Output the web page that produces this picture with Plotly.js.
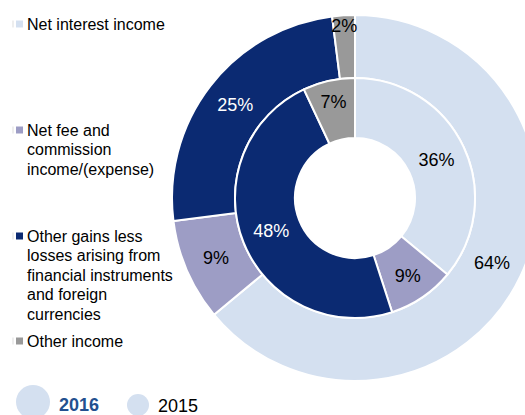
<!DOCTYPE html>
<html><head><meta charset="utf-8">
<script src="https://cdn.plot.ly/plotly-3.0.1.min.js"></script>
<style>html,body{margin:0;padding:0;overflow:hidden;background:#fff}#chart{width:560px;height:415px}</style>
</head><body><div id="chart"></div>
<script>
const categories = ["Net interest income","Net fee and commission income/(expense)","Other gains less losses arising from financial instruments and foreign currencies","Other income"];
const legendLines = [
  ["Net interest income"],
  ["Net fee and","commission","income/(expense)"],
  ["Other gains less","losses arising from","financial instruments","and foreign","currencies"],
  ["Other income"]
];
const years = ["2016","2015"];
const values2016 = [64,9,25,2];
const values2015 = [36,9,48,7];
const colors = ["#D4E0F0","#9D9DC5","#0B2A72","#999999"];
const textColors = ["#000000","#000000","#FFFFFF","#000000"];

const W = 560, H = 415;
const px = x => x / W;
const py = y => 1 - y / H;
const FONT = "Liberation Sans, Arial, sans-serif";

const outer = {
  type: "pie", name: years[0], labels: categories, values: values2016,
  sort: false, direction: "clockwise", rotation: 0,
  hole: 120/183,
  domain: {x: [px(172), px(538)], y: [py(381), py(15)]},
  marker: {colors: colors, line: {color: "#FFFFFF", width: 2}},
  texttemplate: "%{value}%", textposition: "inside", insidetextorientation: "horizontal",
  textfont: {family: FONT, size: 18, color: textColors},
  showlegend: false, hoverinfo: "label+value"
};
const inner = {
  type: "pie", name: years[1], labels: categories, values: values2015,
  sort: false, direction: "clockwise", rotation: 0,
  hole: 0.5,
  domain: {x: [px(235), px(475)], y: [py(318), py(78)]},
  marker: {colors: colors, line: {color: "#FFFFFF", width: 2}},
  texttemplate: "%{value}%", textposition: "inside", insidetextorientation: "horizontal",
  textfont: {family: FONT, size: 18, color: textColors},
  showlegend: false, hoverinfo: "label+value"
};

const firstLine = [24, 130, 236, 341];
const lineGap = 19.6;
const annotations = [];
const shapes = [];
categories.forEach((c, i) => {
  legendLines[i].forEach((t, j) => {
    annotations.push({
      xref: "paper", yref: "paper", x: px(25), y: py(firstLine[i] + j * lineGap),
      xanchor: "left", yanchor: "middle", align: "left", showarrow: false,
      text: t, font: {family: FONT, size: 16, color: "#000"}
    });
  });
  shapes.push({
    type: "rect", xref: "paper", yref: "paper",
    x0: px(16), x1: px(23), y0: py(firstLine[i] + 3.5), y1: py(firstLine[i] - 3.5),
    fillcolor: colors[i], line: {width: 0}
  });
  shapes.push({
    type: "line", xref: "paper", yref: "paper",
    x0: px(13), x1: px(13), y0: py(firstLine[i] + 3.5), y1: py(firstLine[i] - 3.5),
    line: {color: "#DDDDDD", width: 1}
  });
});
// year legend
shapes.push({type: "circle", xref: "paper", yref: "paper",
  x0: px(16), x1: px(50), y0: py(419), y1: py(385), fillcolor: colors[0], line: {width: 0}});
shapes.push({type: "circle", xref: "paper", yref: "paper",
  x0: px(127), x1: px(149), y0: py(416), y1: py(394), fillcolor: colors[0], line: {width: 0}});
annotations.push({xref: "paper", yref: "paper", x: px(57), y: py(405), xanchor: "left", yanchor: "middle",
  showarrow: false, text: "<b>" + years[0] + "</b>", font: {family: FONT, size: 18, color: "#23508F"}});
annotations.push({xref: "paper", yref: "paper", x: px(156), y: py(406), xanchor: "left", yanchor: "middle",
  showarrow: false, text: years[1], font: {family: FONT, size: 18, color: "#000"}});

Plotly.newPlot("chart", [outer, inner], {
  width: W, height: H,
  margin: {l: 0, r: 0, t: 0, b: 0},
  paper_bgcolor: "#FFFFFF",
  showlegend: false,
  uniformtext: {minsize: 18, mode: "show"},
  annotations: annotations, shapes: shapes
}, {displayModeBar: false, staticPlot: true});
</script></body></html>
